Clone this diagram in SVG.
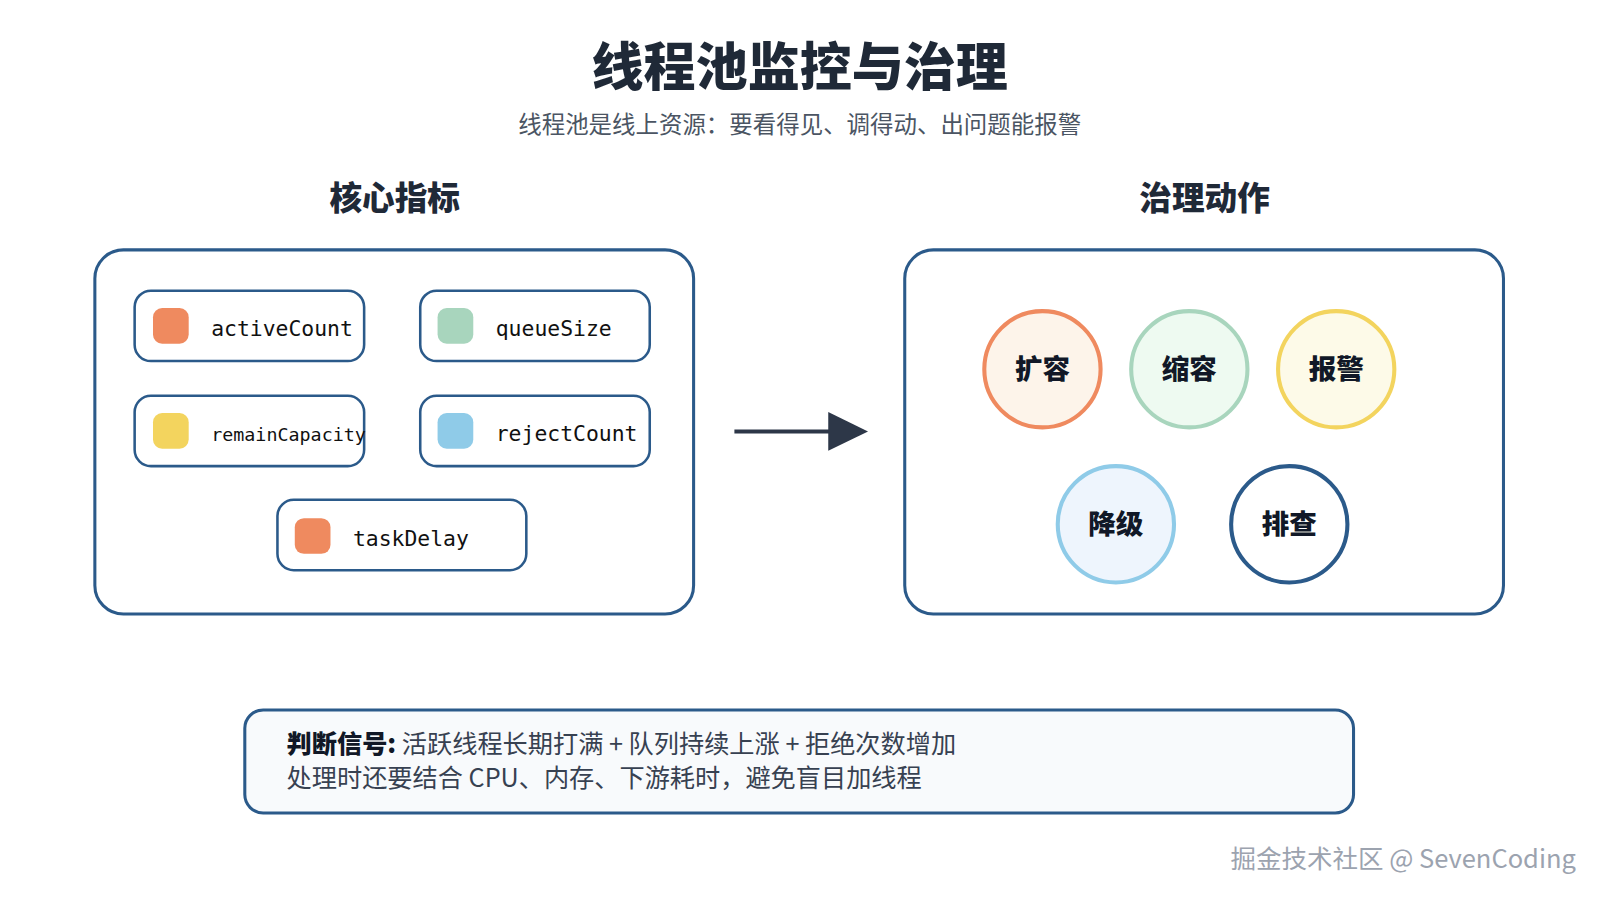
<svg xmlns="http://www.w3.org/2000/svg" width="1600" height="900" viewBox="0 0 1600 900">
<style>
.cjk{font-family:"Noto Sans CJK SC","Noto Sans",sans-serif}
.panel{fill:#fff;stroke:#2b5a8a;stroke-width:3}
.pill{fill:#fff;stroke:#2b5a8a;stroke-width:2.5}
.mono{font-family:"DejaVu Sans Mono","Liberation Mono",monospace;font-size:21px;fill:#111}
.ct{font-family:"Noto Sans CJK SC",sans-serif;font-size:27px;font-weight:900;fill:#111827;text-anchor:middle}
.h2{font-family:"Noto Sans CJK SC",sans-serif;font-size:32px;font-weight:900;fill:#1f2937;text-anchor:middle}
</style>
<rect width="1600" height="900" fill="#fff"/>
<g transform="scale(1.02)">
<text x="784" y="84" class="cjk" font-size="51" font-weight="900" fill="#1f2937" text-anchor="middle">线程池监控与治理</text>
<text x="784" y="130" class="cjk" font-size="23" fill="#4b5563" text-anchor="middle">线程池是线上资源：要看得见、调得动、出问题能报警</text>
<text x="387" y="206" class="h2">核心指标</text>
<text x="1181" y="206" class="h2">治理动作</text>
<g id="left-panel"><rect x="93" y="245" width="587" height="357" rx="28" class="panel"/></g>
<g id="n-activeCount"><rect x="132" y="285" width="225" height="69" rx="16" class="pill"/><rect x="150" y="302" width="35" height="35" rx="9" fill="#ef8a5f"/><text x="207" y="329" class="mono">activeCount</text></g>
<g id="n-queueSize"><rect x="412" y="285" width="225" height="69" rx="16" class="pill"/><rect x="429" y="302" width="35" height="35" rx="9" fill="#a8d5bd"/><text x="486" y="329" class="mono">queueSize</text></g>
<g id="n-remainCapacity"><rect x="132" y="388" width="225" height="69" rx="16" class="pill"/><rect x="150" y="405" width="35" height="35" rx="9" fill="#f3d45e"/><text x="207" y="432" class="mono" style="font-size:18px">remainCapacity</text></g>
<g id="n-rejectCount"><rect x="412" y="388" width="225" height="69" rx="16" class="pill"/><rect x="429" y="405" width="35" height="35" rx="9" fill="#8fcbe8"/><text x="486" y="432" class="mono">rejectCount</text></g>
<g id="n-taskDelay"><rect x="272" y="490" width="244" height="69" rx="16" class="pill"/><rect x="289" y="508" width="35" height="35" rx="9" fill="#ef8a5f"/><text x="346" y="535" class="mono">taskDelay</text></g>
<g id="connectors"><line x1="720" y1="423" x2="818" y2="423" stroke="#2d3748" stroke-width="4"/><polygon points="812,404 851,423 812,442" fill="#2d3748"/></g>
<g id="right-panel"><rect x="887" y="245" width="587" height="357" rx="28" class="panel"/></g>
<g id="c-kuorong"><circle cx="1022" cy="362" r="57" fill="#fdf4ea" stroke="#ef8a5f" stroke-width="4"/><text x="1022" y="372" class="ct">扩容</text></g>
<g id="c-suorong"><circle cx="1166" cy="362" r="57" fill="#eefaf1" stroke="#a8d5bd" stroke-width="4"/><text x="1166" y="372" class="ct">缩容</text></g>
<g id="c-baojing"><circle cx="1310" cy="362" r="57" fill="#fdfae8" stroke="#f3d45e" stroke-width="4"/><text x="1310" y="372" class="ct">报警</text></g>
<g id="c-jiangji"><circle cx="1094" cy="514" r="57" fill="#eef5fd" stroke="#8fcbe8" stroke-width="4"/><text x="1094" y="524" class="ct">降级</text></g>
<g id="c-paicha"><circle cx="1264" cy="514" r="57" fill="#fff" stroke="#2b5a8a" stroke-width="4"/><text x="1264" y="524" class="ct">排查</text></g>
<g id="note"><rect x="240" y="696" width="1087" height="101" rx="18" fill="#f8fafc" stroke="#2b5a8a" stroke-width="3"/>
<text x="281" y="738" class="cjk" font-size="24.7" fill="#374151"><tspan font-weight="900" fill="#111827">判断信号:</tspan> 活跃线程长期打满 + 队列持续上涨 + 拒绝次数增加</text>
<text x="281" y="772" class="cjk" font-size="24.7" fill="#374151">处理时还要结合 CPU、内存、下游耗时，避免盲目加线程</text></g>
<text x="1545" y="851" class="cjk" font-size="25" fill="#9ca3af" text-anchor="end">掘金技术社区 @ SevenCoding</text>
</g>
</svg>
